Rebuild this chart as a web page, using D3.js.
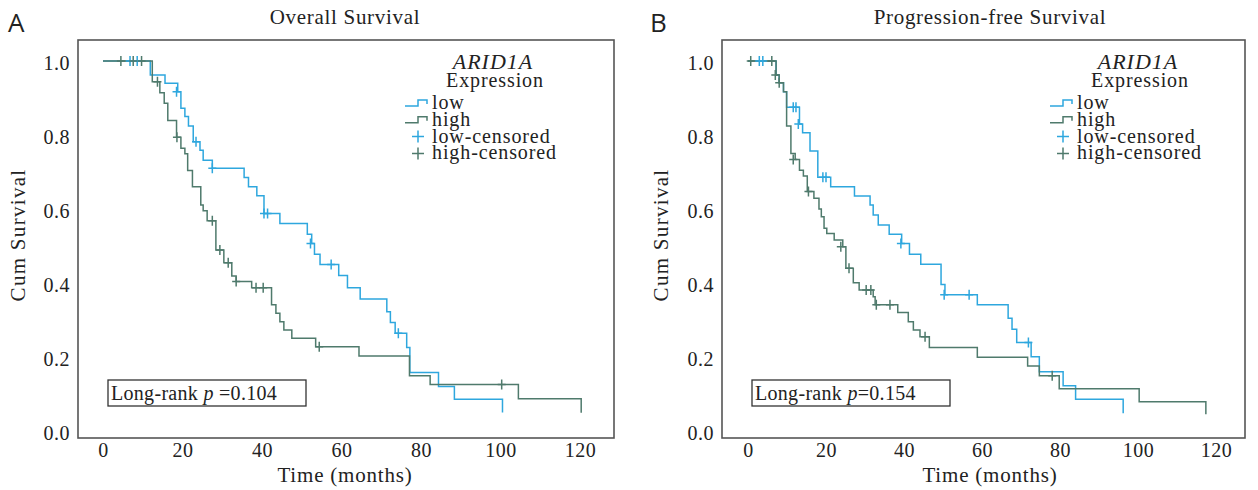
<!DOCTYPE html>
<html>
<head>
<meta charset="utf-8">
<script src="https://cdn.jsdelivr.net/npm/d3@7"></script>
<style>
  body { margin: 0; background: #fff; }
  svg text { font-family: "Liberation Serif", "DejaVu Serif", serif; fill: #222; }
</style>
</head>
<body>
<div id="chart"></div>
<script>
// tick values
const xTicks = [0, 20, 40, 60, 80, 100, 120];
const yTicks = [0, 0.2, 0.4, 0.6, 0.8, 1.0];

// Overall survival - step points [month, cum survival]
const osLow = [[0,1],[11.9,0.962],[15.6,0.940],[18.8,0.917],[19.6,0.872],[20.6,0.850],[21.5,0.824],[22.7,0.782],[24.4,0.759],[25.2,0.732],[27.5,0.710],[35.5,0.685],[36.6,0.660],[38.7,0.636],[40.5,0.588],[44.5,0.561],[51.4,0.532],[52.5,0.507],[53.2,0.478],[54.6,0.450],[59.3,0.420],[61.5,0.387],[64.7,0.357],[71.4,0.322],[72.3,0.293],[73.5,0.264],[76.4,0.226],[77.2,0.158],[84.4,0.120],[88.4,0.086],[100.5,0.05]];
const osLowCensor = [[6.8,1],[8.6,1],[18.5,0.917],[23.4,0.782],[27.5,0.710],[40.5,0.588],[41.4,0.588],[52.2,0.507],[57.4,0.450],[74.3,0.264]];
const osHigh = [[0,1],[12.4,0.944],[14.3,0.914],[15.4,0.886],[16.3,0.839],[18.5,0.794],[19.6,0.764],[20.6,0.749],[21.3,0.704],[22.5,0.660],[24.6,0.611],[25.2,0.595],[26.2,0.568],[28.4,0.489],[30.4,0.455],[32.4,0.419],[33.5,0.404],[37.4,0.387],[42.4,0.341],[43.5,0.318],[44.5,0.295],[45.5,0.273],[47.5,0.251],[53.5,0.228],[64.4,0.203],[77.1,0.149],[82.3,0.126],[104.5,0.087],[120.3,0.049]];
const osHighCensor = [[4.5,1],[7.6,1],[9.7,1],[13.7,0.944],[18.6,0.794],[27.5,0.568],[29.4,0.489],[31.5,0.455],[33.5,0.404],[38.5,0.387],[40.3,0.387],[54.4,0.228],[100.3,0.126]];

// Progression-free survival
const pfsLow = [[0,1],[7.2,0.962],[8.0,0.941],[9.1,0.917],[9.9,0.875],[13.2,0.830],[14.0,0.806],[15.9,0.757],[17.9,0.686],[21.2,0.660],[27.3,0.635],[31.3,0.611],[32.1,0.584],[33.4,0.557],[36.2,0.532],[39.4,0.507],[41.4,0.478],[44.3,0.451],[49.5,0.396],[50.5,0.368],[58.8,0.341],[66.7,0.305],[67.7,0.275],[68.9,0.239],[72.6,0.201],[74.7,0.160],[80.8,0.122],[84.0,0.086],[96.2,0.048]];
const pfsLowCensor = [[2.9,1],[3.8,1],[11.6,0.875],[12.3,0.875],[12.9,0.830],[19.2,0.686],[20.0,0.686],[39.2,0.507],[50.3,0.368],[56.7,0.368],[71.9,0.239]];
const pfsHigh = [[0,1],[7.2,0.962],[8.0,0.941],[9.1,0.917],[9.9,0.824],[11.0,0.750],[12.1,0.734],[13.2,0.705],[14.2,0.689],[15.2,0.647],[16.9,0.629],[18.2,0.600],[18.8,0.579],[19.5,0.548],[20.2,0.534],[22.1,0.516],[24.3,0.498],[25.1,0.440],[27.0,0.401],[28.5,0.381],[32.1,0.363],[32.6,0.341],[38.4,0.320],[41.1,0.295],[42.4,0.273],[44.1,0.255],[46.5,0.226],[58.8,0.199],[71.7,0.176],[74.7,0.149],[79.8,0.114],[100.3,0.079],[117.4,0.045]];
const pfsHighCensor = [[0.7,1],[6.1,1],[7.0,0.962],[8.0,0.941],[11.6,0.734],[15.5,0.647],[23.8,0.498],[25.9,0.440],[30.3,0.381],[31.5,0.381],[32.9,0.341],[36.4,0.341],[45.4,0.255],[78.0,0.149]];

const legendLabels = ["low", "high", "low-censored", "high-censored"];
const lowColor = "#2ea7de";
const highColor = "#4f7a6c";

const svg = d3.select("#chart").append("svg")
  .attr("width", 1258)
  .attr("height", 490);

function drawPanel(p) {
  const g = svg.append("g");
  const x = d3.scaleLinear().domain([0, 120]).range([p.x0, p.x120]);
  const y = d3.scaleLinear().domain([0, 1]).range([431, 61]);

  // frame
  g.append("rect")
    .attr("x", p.boxL).attr("y", 40)
    .attr("width", p.boxR - p.boxL).attr("height", 398)
    .attr("fill", "none").attr("stroke", "#555").attr("stroke-width", 1.6);

  // x axis labels
  g.append("g")
    .attr("transform", "translate(0,438)")
    .style("font-size", "20px")
    .call(d3.axisBottom(x).tickValues(xTicks).tickSize(0).tickPadding(5).tickFormat(d3.format("d")))
    .call((a) => a.select(".domain").remove())
    .selectAll("text").attr("fill", "#222").style("font-family", "Liberation Serif").style("letter-spacing", "0.5px");

  // y axis labels
  g.append("g")
    .attr("transform", `translate(${p.boxL},0)`)
    .style("font-size", "20px")
    .call(d3.axisLeft(y).tickValues(yTicks).tickSize(0).tickPadding(8).tickFormat(d3.format(".1f")))
    .call((a) => a.select(".domain").remove())
    .selectAll("text").attr("fill", "#222").attr("dy", "0.42em").style("font-family", "Liberation Serif").style("letter-spacing", "0.5px");

  const line = d3.line()
    .x((d) => x(d[0]))
    .y((d) => y(d[1]))
    .curve(d3.curveStepAfter);

  const series = [
    { steps: p.low, censor: p.lowCensor, color: lowColor },
    { steps: p.high, censor: p.highCensor, color: highColor },
  ];

  series.forEach((s) => {
    g.append("path")
      .datum(s.steps)
      .attr("fill", "none")
      .attr("stroke", s.color)
      .attr("stroke-width", 1.5)
      .attr("d", line);
  });

  series.forEach((s) => {
    g.selectAll(null)
      .data(s.censor)
      .join("path")
      .attr("d", (d) => `M${x(d[0])},${y(d[1]) - 5}V${y(d[1]) + 5}M${x(d[0]) - 4},${y(d[1])}H${x(d[0]) + 4}`)
      .attr("stroke", s.color)
      .attr("stroke-width", 1.5)
      .attr("fill", "none");
  });

  // titles
  g.append("text")
    .attr("x", p.titleX).attr("y", 24)
    .attr("text-anchor", "middle")
    .style("font-size", "21px")
    .style("letter-spacing", "0.7px")
    .text(p.title);

  g.append("text")
    .attr("x", p.letterX).attr("y", 32)
    .style("font-family", "'Open Sans', sans-serif")
    .style("font-size", "26px")
    .text(p.letter);

  g.append("text")
    .attr("x", p.titleX).attr("y", 482)
    .attr("text-anchor", "middle")
    .style("font-size", "21px")
    .style("letter-spacing", "0.8px")
    .text("Time (months)");

  g.append("text")
    .attr("transform", `translate(${p.yLabelX},235) rotate(-90)`)
    .attr("text-anchor", "middle")
    .style("font-size", "21px")
    .style("letter-spacing", "1.3px")
    .text("Cum Survival");

  // legend
  const lg = g.append("g").attr("transform", `translate(${p.legX},0)`);
  lg.append("text")
    .attr("x", 88).attr("y", 69)
    .attr("text-anchor", "middle")
    .style("font-size", "22px")
    .style("font-style", "italic")
    .style("letter-spacing", "1px")
    .text("ARID1A");
  lg.append("text")
    .attr("x", 90).attr("y", 87)
    .attr("text-anchor", "middle")
    .style("font-size", "20px")
    .style("letter-spacing", "0.9px")
    .text("Expression");

  const legColors = [lowColor, highColor, lowColor, highColor];
  legendLabels.forEach((lab, i) => {
    const yy = 103 + i * 16.8;
    if (i < 2) {
      lg.append("path")
        .attr("d", `M0,${yy + 3}H13V${yy - 3}H22V${yy + 1}`)
        .attr("fill", "none").attr("stroke", legColors[i]).attr("stroke-width", 1.5);
    } else {
      lg.append("path")
        .attr("d", `M13,${yy - 6}V${yy + 6}M7,${yy}H19`)
        .attr("fill", "none").attr("stroke", legColors[i]).attr("stroke-width", 1.5);
    }
    lg.append("text")
      .attr("x", 27).attr("y", yy + 6)
      .style("font-size", "20px")
      .style("letter-spacing", "0.9px")
      .text(lab);
  });

  // log-rank box
  const bx = g.append("g").attr("transform", `translate(${p.boxL + 30},380)`);
  bx.append("rect")
    .attr("width", 198).attr("height", 26)
    .attr("fill", "#fff").attr("stroke", "#333").attr("stroke-width", 1.3);
  const t = bx.append("text").attr("x", 3).attr("y", 20)
    .style("font-size", "20px").style("letter-spacing", "0.3px");
  t.append("tspan").text("Long-rank ");
  t.append("tspan").style("font-style", "italic").text("p");
  t.append("tspan").text(p.pText);
}

drawPanel({
  title: "Overall Survival", letter: "A", letterX: 8, titleX: 345, yLabelX: 25,
  boxL: 78, boxR: 614, x0: 103, x120: 580, legX: 405,
  low: osLow, lowCensor: osLowCensor, high: osHigh, highCensor: osHighCensor,
  pText: " =0.104",
});

drawPanel({
  title: "Progression-free Survival", letter: "B", letterX: 650, titleX: 990, yLabelX: 668,
  boxL: 722, boxR: 1245, x0: 748, x120: 1216, legX: 1050,
  low: pfsLow, lowCensor: pfsLowCensor, high: pfsHigh, highCensor: pfsHighCensor,
  pText: "=0.154",
});
</script>
</body>
</html>
